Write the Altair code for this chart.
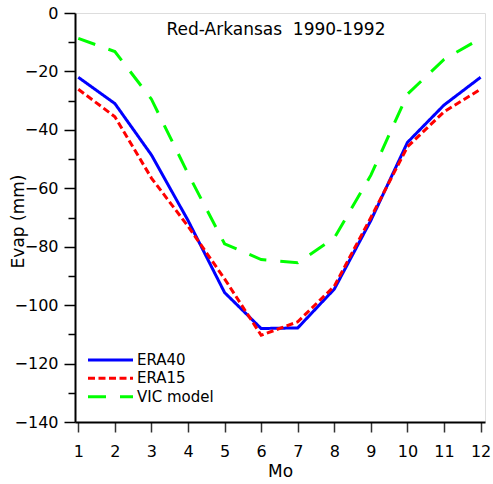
import altair as alt
import pandas as pd

months = list(range(1, 13))
era40 = [-22, -31, -48.6, -71, -95.7, -108, -107.8, -94.5, -71, -44.3, -31.5, -22]
era15 = [-26.1, -35.5, -56.5, -73, -91, -110.3, -105.7, -93.5, -70, -45.8, -33.8, -26.1]
vic = [-8.7, -13.2, -29.5, -55, -79, -84.4, -85.5, -77, -55.5, -27.8, -15.9, -8.7]

series_names = ["ERA40", "ERA15", "VIC model"]
series_colors = ["#0000FF", "#FF0000", "#00FF00"]
series_dash = [[1, 0], [7, 3.5], [18, 14]]

rows = []
for name, vals in [("VIC model", vic), ("ERA40", era40), ("ERA15", era15)]:
    for m, v in zip(months, vals):
        rows.append({"Mo": m, "Evap": v, "series": name})
df = pd.DataFrame(rows)
legend_df = pd.DataFrame({"series": series_names})

FONT = "DejaVu Sans"

xscale = alt.Scale(domain=[0.91, 12.12], nice=False, zero=False)
yscale = alt.Scale(domain=[-140, 0], nice=False, zero=False)
cscale = alt.Scale(domain=series_names, range=series_colors)
dscale = alt.Scale(domain=series_names, range=series_dash)

lines = alt.Chart(df).mark_line(strokeWidth=3, strokeCap="butt").encode(
    x=alt.X("Mo:Q", scale=xscale,
            axis=alt.Axis(values=months, title="Mo", tickSize=10, labelFontSize=16,
                          titleFontSize=17, labelPadding=11, titlePadding=4,
                          titleFontWeight="normal", grid=False, domainColor="black",
                          domainWidth=2, tickColor="#333333", tickWidth=1.5,
                          labelColor="black", titleColor="black", labelFont=FONT, titleFont=FONT)),
    y=alt.Y("Evap:Q", scale=yscale,
            axis=alt.Axis(values=list(range(-140, 1, 20)), title="Evap (mm)", tickSize=11,
                          labelFontSize=16, titleFontSize=17, labelPadding=6,
                          titleFontWeight="normal", grid=False, domainColor="black",
                          domainWidth=2, tickColor="black", tickWidth=1.5,
                          labelColor="black", titleColor="black", labelFont=FONT, titleFont=FONT,
                          titleX=-57, titleY=208, titleBaseline="middle", titleAngle=-90)),
    color=alt.Color("series:N", scale=cscale, legend=None),
    strokeDash=alt.StrokeDash("series:N", scale=dscale, legend=None),
)

minor = alt.Chart(df).mark_point(opacity=0).encode(
    y=alt.Y("Evap:Q", scale=yscale,
            axis=alt.Axis(values=list(range(-130, 0, 20)), labels=False, title=None, tickSize=7,
                          tickWidth=1.5, tickColor="black", grid=False, domain=False, orient="left")),
)

legend_y = alt.Y("series:N", scale=alt.Scale(type="point", domain=series_names,
                                             range=[347, 383.7], padding=0), axis=None)

legend_lines = alt.Chart(legend_df).mark_rule(strokeWidth=3, strokeCap="butt").encode(
    x=alt.value(13), x2=alt.value(58), y=legend_y,
    color=alt.Color("series:N", scale=cscale, legend=None),
    strokeDash=alt.StrokeDash("series:N", scale=dscale, legend=None),
)

legend_text = alt.Chart(legend_df).mark_text(
    font=FONT, fontSize=15, color="black", align="left", baseline="middle"
).encode(x=alt.value(62), y=legend_y, text="series:N")

title_txt = alt.Chart(legend_df).transform_filter("datum.series == 'ERA40'").mark_text(
    font=FONT, fontSize=17, color="black", align="center", baseline="middle"
).encode(
    x=alt.value(201), y=alt.value(17), text=alt.value("Red-Arkansas\u00a0 1990-1992")
)

chart = alt.layer(lines, minor, legend_lines, legend_text, title_txt).resolve_scale(
    y="independent"
).resolve_axis(y="independent").properties(
    width=410, height=409,
    autosize=alt.AutoSizeParams(type="none"),
    padding={"left": 75, "top": 13, "right": 8, "bottom": 62},
).configure_view(stroke="black", strokeWidth=2).configure(background="white")

chart.save("out.html", embed_options={"renderer": "svg", "actions": False})
